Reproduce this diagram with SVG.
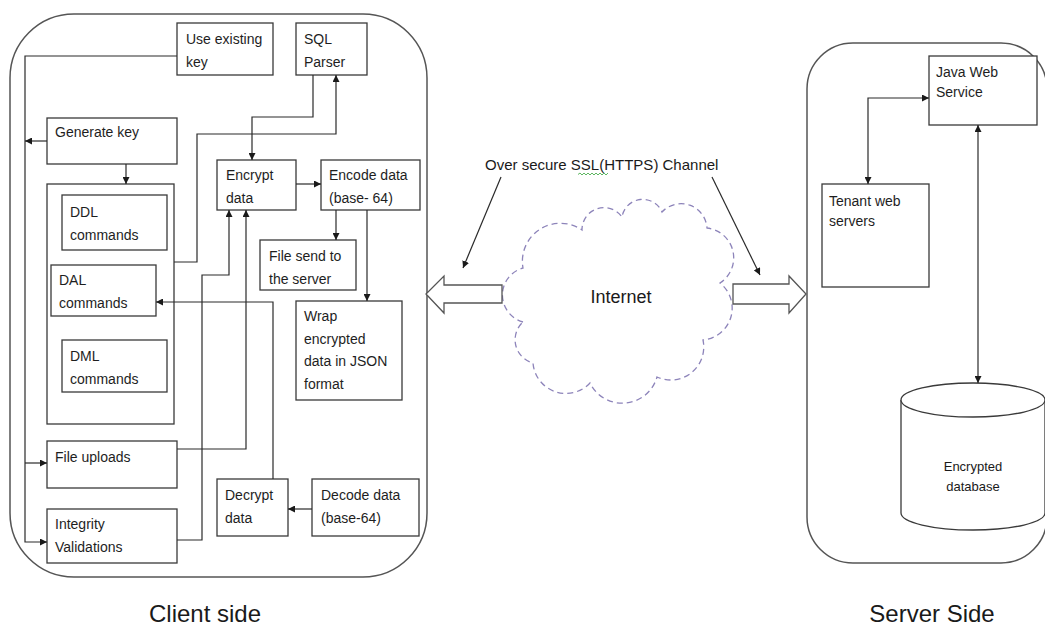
<svg xmlns="http://www.w3.org/2000/svg" width="1045" height="626" viewBox="0 0 1045 626">
<style>
  .box{fill:#fff;stroke:#3a3a3a;stroke-width:1.3}
  .panel{fill:#fff;stroke:#555;stroke-width:1.5}
  .t{font-family:"Liberation Sans",Arial,sans-serif;font-size:14px;fill:#1e1e1e}
  .lbl{font-family:"Liberation Sans",Arial,sans-serif;fill:#1a1a1a}
  .ln{fill:none;stroke:#2a2a2a;stroke-width:1.2}
  .blk{fill:#fff;stroke:#555;stroke-width:1.3}
  .cloud{fill:#fff;stroke:#8d84ba;stroke-width:1.3;stroke-dasharray:6 4}
</style>
<defs>
  <marker id="ah" markerUnits="userSpaceOnUse" markerWidth="8" markerHeight="7" refX="7" refY="3.5" orient="auto-start-reverse">
    <path d="M0,0 L7,3.5 L0,7 z" fill="#1a1a1a"/>
  </marker>
</defs>
<rect width="1045" height="626" fill="#fff"/>

<!-- panels -->
<g id="client-panel"><rect class="panel" x="10" y="14" width="417" height="563" rx="64" ry="64"/></g>
<g id="server-panel"><rect class="panel" x="807" y="43" width="240" height="520" rx="46" ry="46"/></g>

<!-- client nodes -->
<g id="use-existing-key"><rect class="box" x="177" y="23" width="96" height="52"/>
  <text class="t" x="186" y="44">Use existing</text><text class="t" x="186" y="67">key</text></g>
<g id="sql-parser"><rect class="box" x="296" y="23" width="71" height="52"/>
  <text class="t" x="304" y="44">SQL</text><text class="t" x="304" y="67">Parser</text></g>
<g id="generate-key"><rect class="box" x="47" y="118" width="130" height="46"/>
  <text class="t" x="55" y="137">Generate key</text></g>
<g id="encrypt-data"><rect class="box" x="217" y="160" width="79" height="50"/>
  <text class="t" x="226" y="180">Encrypt</text><text class="t" x="226" y="203">data</text></g>
<g id="encode-data"><rect class="box" x="321" y="160" width="99" height="50"/>
  <text class="t" x="329" y="180">Encode data</text><text class="t" x="329" y="203">(base- 64)</text></g>
<g id="commands-group"><rect class="box" x="47" y="184" width="127" height="240"/></g>
<g id="ddl-commands"><rect class="box" x="62" y="195" width="105" height="55"/>
  <text class="t" x="70" y="217">DDL</text><text class="t" x="70" y="240">commands</text></g>
<g id="dal-commands"><rect class="box" x="51" y="265" width="105" height="51"/>
  <text class="t" x="59" y="285">DAL</text><text class="t" x="59" y="308">commands</text></g>
<g id="dml-commands"><rect class="box" x="62" y="340" width="105" height="52"/>
  <text class="t" x="70" y="361">DML</text><text class="t" x="70" y="384">commands</text></g>
<g id="file-send"><rect class="box" x="260" y="240" width="96" height="50"/>
  <text class="t" x="269" y="261">File send to</text><text class="t" x="269" y="284">the server</text></g>
<g id="wrap-json"><rect class="box" x="296" y="301" width="106" height="99"/>
  <text class="t" x="304" y="321">Wrap</text><text class="t" x="304" y="344">encrypted</text>
  <text class="t" x="304" y="366">data in JSON</text><text class="t" x="304" y="389">format</text></g>
<g id="file-uploads"><rect class="box" x="47" y="441" width="130" height="47"/>
  <text class="t" x="55" y="462">File uploads</text></g>
<g id="integrity-validations"><rect class="box" x="47" y="509" width="130" height="54"/>
  <text class="t" x="55" y="529">Integrity</text><text class="t" x="55" y="552">Validations</text></g>
<g id="decrypt-data"><rect class="box" x="217" y="479" width="71" height="57"/>
  <text class="t" x="225" y="500">Decrypt</text><text class="t" x="225" y="523">data</text></g>
<g id="decode-data"><rect class="box" x="312" y="479" width="107" height="57"/>
  <text class="t" x="321" y="500">Decode data</text><text class="t" x="321" y="523">(base-64)</text></g>

<!-- internet -->
<g id="internet-cloud">
  <path class="cloud" d="M523,322 A28,28 0 0,1 523,268 A38,38 0 0,1 582,230 A22,22 0 0,1 622,217 A21,21 0 0,1 662,212 A26,26 0 0,1 707,228 A30,30 0 0,1 720,283 A32,32 0 0,1 703,340 A33,33 0 0,1 657,377 A36,36 0 0,1 590,383 A33,33 0 0,1 533,363 A24,24 0 0,1 523,322 Z"/>
  <text class="lbl" x="621" y="303" font-size="18" text-anchor="middle">Internet</text>
</g>
<g id="left-block-arrow"><path class="blk" d="M502,285 H444 V276 L426,294 L444,313 V303 H502 Z"/></g>
<g id="right-block-arrow"><path class="blk" d="M733,284 H789 V276 L806,294 L789,313 V304 H733 Z"/></g>
<g id="ssl-label">
  <text class="lbl" x="485" y="170" font-size="15">Over secure SSL(HTTPS) Channel</text>
  <polyline points="578,174.5 580,173 582,175 584,173 586,175 588,173 590,175 592,173 594,175 596,173 598,175 600,173 602,175 604,173 606,175 608,173" fill="none" stroke="#4caf50" stroke-width="0.9"/>
</g>

<!-- server nodes -->
<g id="java-web-service"><rect class="box" x="929" y="56" width="108" height="69"/>
  <text class="t" x="936" y="77">Java Web</text><text class="t" x="936" y="97">Service</text></g>
<g id="tenant-web-servers"><rect class="box" x="822" y="184" width="107" height="103"/>
  <text class="t" x="829" y="206">Tenant web</text><text class="t" x="829" y="226">servers</text></g>
<g id="encrypted-database">
  <path class="box" d="M901,400 V513 A72,17 0 0,0 1045,513 V400"/>
  <ellipse class="box" cx="973" cy="400" rx="72" ry="17"/>
  <text class="lbl" x="973" y="471" font-size="13" text-anchor="middle">Encrypted</text>
  <text class="lbl" x="973" y="491" font-size="13" text-anchor="middle">database</text>
</g>

<!-- connectors -->
<g id="connectors" class="ln">
  <path class="ln" d="M177,56 H25 V542 H47" marker-end="url(#ah)"/>
  <path class="ln" d="M25,463 H47" marker-end="url(#ah)"/>
  <path class="ln" d="M47,141 H25" marker-end="url(#ah)"/>
  <path class="ln" d="M126,164 V184" marker-end="url(#ah)"/>
  <path class="ln" d="M313,75 V117 H252 V160" marker-end="url(#ah)"/>
  <path class="ln" d="M174,262 H197 V134 H336 V75" marker-end="url(#ah)"/>
  <path class="ln" d="M296,184 H321" marker-end="url(#ah)"/>
  <path class="ln" d="M336,210 V240" marker-end="url(#ah)"/>
  <path class="ln" d="M367,210 V301" marker-end="url(#ah)"/>
  <path class="ln" d="M177,540 H202 V275 H229 V210" marker-end="url(#ah)"/>
  <path class="ln" d="M177,449 H246 V210" marker-end="url(#ah)"/>
  <path class="ln" d="M273,479 V302 H156" marker-end="url(#ah)"/>
  <path class="ln" d="M312,509 H288" marker-end="url(#ah)"/>
  <path class="ln" d="M501,177 L463,268" marker-end="url(#ah)"/>
  <path class="ln" d="M712,177 L760,275" marker-end="url(#ah)"/>
  <path class="ln" d="M868,184 V98 H929" marker-start="url(#ah)" marker-end="url(#ah)"/>
  <path class="ln" d="M978,125 V383" marker-start="url(#ah)" marker-end="url(#ah)"/>
</g>

<!-- captions -->
<text class="lbl" x="205" y="622" font-size="24" text-anchor="middle">Client side</text>
<text class="lbl" x="932" y="622" font-size="24" text-anchor="middle">Server Side</text>
</svg>
